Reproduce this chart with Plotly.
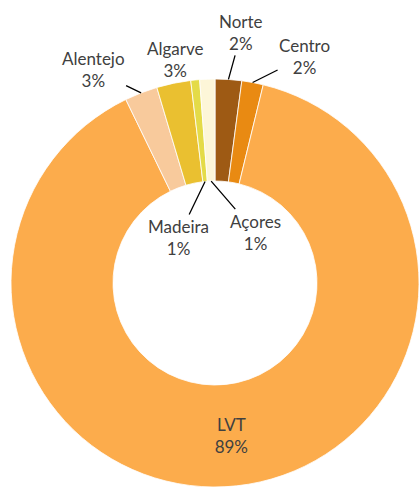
import math
import plotly.graph_objects as go

# ---- data ----
regions = ["Norte", "Centro", "LVT", "Alentejo", "Algarve", "Madeira", "Açores"]
shares = [2.1, 1.7, 89.0, 2.6, 2.7, 0.7, 1.2]
colors = ["#9E5A14", "#E98A12", "#FCAC4C", "#F8CA9C", "#EAC030", "#E4DB48", "#FDF6D8"]

# ---- layout constants (pixels) ----
W, H = 419, 488
CX, CY, R = 215, 283, 204
HOLE = 0.5
FONT = "Lato, 'Open Sans', sans-serif"
TXT = "#404040"

# label offsets (pixels from the leader-line anchor), and which ring edge anchors it
label_style = {
    "Norte":    dict(ax=13,  ay=-47, edge="outer", line=True),
    "Centro":   dict(ax=52,  ay=-26, edge="outer", line=True),
    "Alentejo": dict(ax=-48, ay=-23, edge="outer", line=True),
    "Algarve":  dict(ax=1,   ay=-24, edge="outer", line=False),
    "Madeira":  dict(ax=-27, ay=56,  edge="inner", line=True),
    "Açores":   dict(ax=44,  ay=51,  edge="inner", line=True),
}

textpos = ["inside" if r == "LVT" else "none" for r in regions]

fig = go.Figure(go.Pie(
    labels=regions,
    values=shares,
    hole=HOLE,
    sort=False,
    direction="clockwise",
    rotation=0,
    marker=dict(colors=colors, line=dict(color="rgba(255,255,255,0.8)", width=1)),
    textposition=textpos,
    texttemplate="%{label}<br>%{percent:.0%}",
    insidetextorientation="horizontal",
    textfont=dict(family=FONT, size=17, color=TXT),
    domain=dict(x=[(CX - R) / W, (CX + R) / W], y=[(H - CY - R) / H, (H - CY + R) / H]),
    showlegend=False,
))

# leader-line anchors computed from the data
total = sum(shares)
cum = 0.0
annotations = []
for name, v in zip(regions, shares):
    mid = (cum + v / 2) / total * 360.0
    cum += v
    if name not in label_style:
        continue
    st = label_style[name]
    rad = R if st["edge"] == "outer" else R * HOLE
    px = CX + rad * math.sin(math.radians(mid))
    py = CY - rad * math.cos(math.radians(mid))
    annotations.append(dict(
        x=px / W, y=1 - py / H, xref="paper", yref="paper",
        text=f"{name}<br>{round(v / total * 100)}%",
        showarrow=True, arrowhead=0, arrowwidth=1.3,
        arrowcolor="#000000" if st["line"] else "rgba(0,0,0,0)",
        ax=st["ax"], ay=st["ay"], standoff=0,
        font=dict(family=FONT, size=17, color=TXT),
        align="center",
    ))

fig.update_layout(
    width=W, height=H,
    margin=dict(l=0, r=0, t=0, b=0),
    paper_bgcolor="white", plot_bgcolor="white",
    annotations=annotations,
)

fig.write_html(
    "out.html",
    config={"displayModeBar": False},
    post_script="document.body.style.margin='0';document.body.style.overflow='hidden';",
)
